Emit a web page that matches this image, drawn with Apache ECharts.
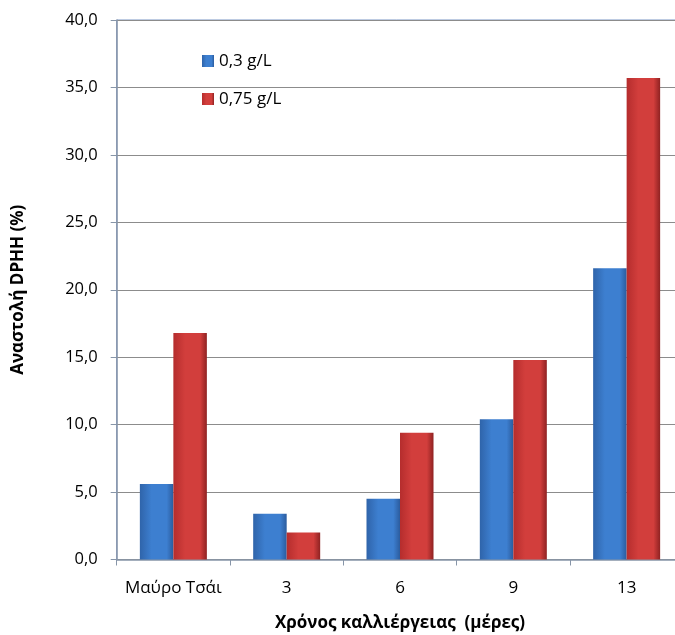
<!DOCTYPE html>
<html>
<head>
<meta charset="utf-8">
<script src="https://cdn.jsdelivr.net/npm/echarts@6/dist/echarts.min.js"></script>
<style>html,body{margin:0;padding:0;background:#fff}#c{width:675px;height:635px}</style>
</head>
<body>
<div id="c"></div>
<script>
const categories = ['Μαύρο Τσάι', '3', '6', '9', '13'];
const seriesNames = ['0,3 g/L', '0,75 g/L'];
const values03 = [5.6, 3.4, 4.5, 10.4, 21.6];
const values075 = [16.8, 2.0, 9.4, 14.8, 35.7];
const yTicks = { min: 0, max: 40, interval: 5 };

const FONT = 'Open Sans';
function grad(c0, c1, c2) {
  return new echarts.graphic.LinearGradient(0, 0, 1, 0, [
    { offset: 0, color: c0 }, { offset: 0.35, color: c1 }, { offset: 0.8, color: c1 }, { offset: 1, color: c2 }
  ]);
}
const chart = echarts.init(document.getElementById('c'), null, { renderer: 'canvas' });
chart.setOption({
  animation: false,
  textStyle: { fontFamily: FONT },
  grid: { left: 116.7, top: 20, width: 566.6, height: 539.5, outerBoundsMode: 'none', containLabel: false,
    show: true, borderColor: '#7b96c4', borderWidth: 1, backgroundColor: 'transparent' },
  legend: {
    orient: 'vertical', left: 197, top: 44, itemGap: 14, itemWidth: 12, itemHeight: 12,
    icon: 'rect',
    textStyle: { fontSize: 17, color: '#000', fontFamily: FONT, lineHeight: 24 },
    data: seriesNames
  },
  xAxis: {
    type: 'category', data: categories,
    axisLine: { lineStyle: { color: '#8795a8', width: 1.5 } },
    axisTick: { show: true, length: 6, interval: 0, lineStyle: { color: '#8795a8' } },
    axisLabel: { fontSize: 17, color: '#000', margin: 20, interval: 0 },
    name: 'Χρόνος καλλιέργειας  (μέρες)', nameLocation: 'middle', nameGap: 55,
    nameTextStyle: { fontSize: 17, fontWeight: 'bold', color: '#000' }
  },
  yAxis: {
    type: 'value', min: yTicks.min, max: yTicks.max, interval: yTicks.interval,
    axisLine: { show: true, lineStyle: { color: '#8795a8', width: 1.5 } },
    axisTick: { show: true, length: 6, lineStyle: { color: '#8795a8' } },
    splitLine: { lineStyle: { color: '#8c8c8c', width: 1.2 } },
    axisLabel: { fontSize: 16.5, color: '#000', margin: 19, formatter: v => v.toFixed(1).replace('.', ',') },
    name: 'Αναστολή DPHH (%)', nameLocation: 'middle', nameGap: 90, nameRotate: 90,
    nameTextStyle: { fontSize: 17, fontWeight: 'bold', color: '#000' }
  },
  series: [
    { name: seriesNames[0], type: 'bar', data: values03, barWidth: 33.5, barGap: '0%',
      itemStyle: { color: grad('#2f64aa', '#3d7fd0', '#2b5c9e') } },
    { name: seriesNames[1], type: 'bar', data: values075, barWidth: 33.5,
      itemStyle: { color: grad('#b52d2d', '#d23e3c', '#8f2222') } }
  ]
});
</script>
</body>
</html>
